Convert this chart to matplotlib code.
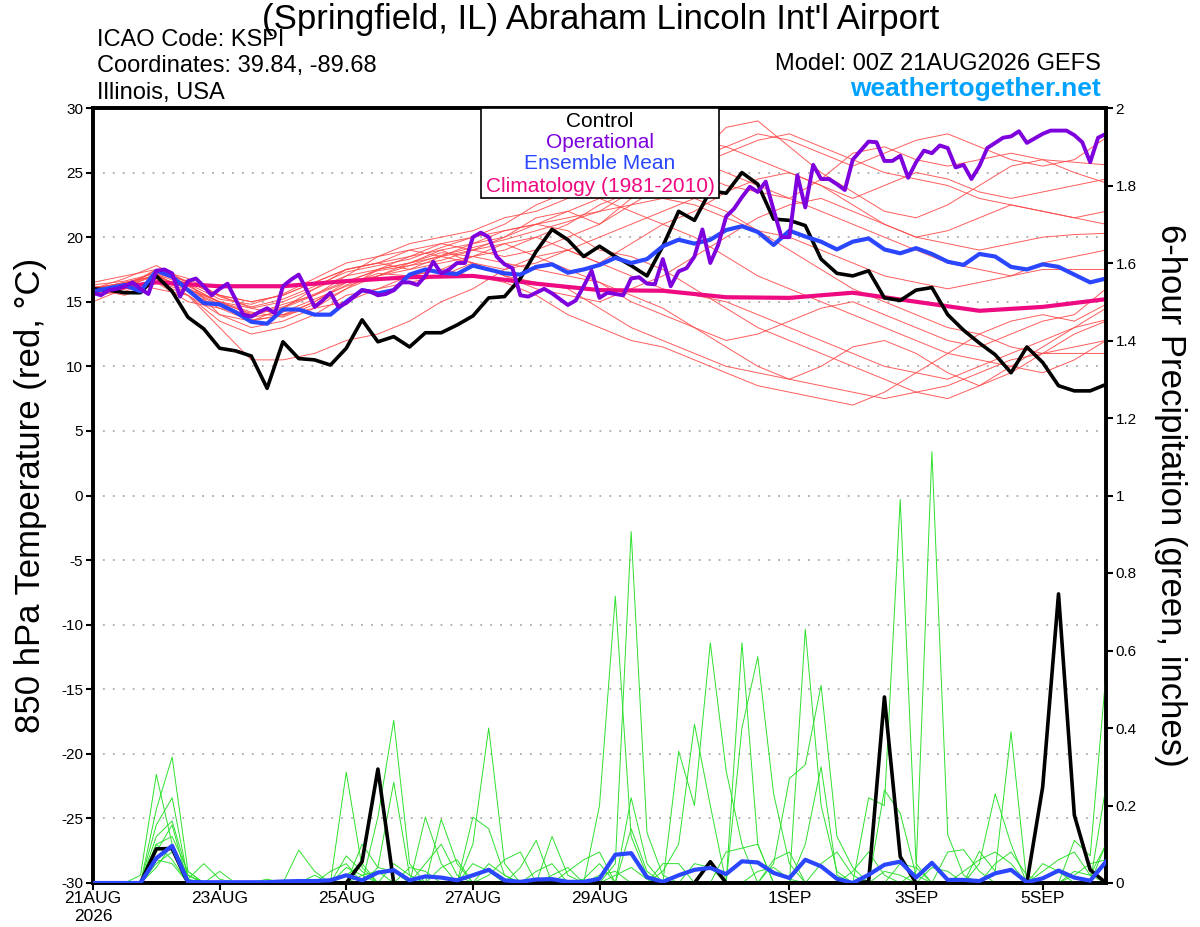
import numpy as np
import matplotlib
matplotlib.use('Agg')
import matplotlib.pyplot as plt
from matplotlib.patches import Rectangle

plt.rcParams['font.family'] = ['Liberation Sans', 'DejaVu Sans']
plt.rcParams['axes.unicode_minus'] = False

# forecast hours from 00Z 21AUG2026
hours_6h = np.arange(65) * 6
hours_3h = np.arange(129) * 3
hours_12h = np.arange(33) * 12
hours_24h = np.arange(17) * 24

tick_hours = [0, 48, 96, 144, 192, 264, 312, 360]
tick_labels = ['21AUG\n2026', '23AUG', '25AUG', '27AUG', '29AUG', '1SEP', '3SEP', '5SEP']

# 850 hPa temperature (C)
control_t = [16.0, 15.9, 15.7, 15.7, 17.0, 15.8, 13.8, 12.9, 11.4, 11.2, 10.8, 8.3, 11.9,
             10.6, 10.5, 10.1, 11.4, 13.6, 11.9, 12.3, 11.5, 12.6, 12.6, 13.2, 13.9, 15.3,
             15.4, 16.8, 18.9, 20.6, 19.8, 18.5, 19.3, 18.5, 17.8, 17.0, 19.3, 22.0, 21.3,
             23.6, 23.4, 25.0, 24.1, 21.4, 21.3, 20.9, 18.3, 17.2, 17.0, 17.4, 15.3, 15.1,
             15.9, 16.1, 14.0, 12.8, 11.8, 10.9, 9.5, 11.5, 10.3, 8.5, 8.1, 8.1, 8.6]

oper_t = [15.7, 15.5, 15.9, 16.0, 16.2, 16.5, 16.0, 15.6, 17.4, 17.5, 17.2, 15.4, 16.6,
          16.8, 16.2, 15.5, 16.0, 16.4, 15.2, 14.0, 13.85, 14.2, 14.5, 14.1, 16.2, 16.7,
          17.1, 15.9, 14.6, 15.1, 15.7, 14.6, 14.9, 15.4, 15.9, 15.8, 15.5, 15.6, 15.9,
          16.5, 16.5, 16.3, 17.0, 18.1, 17.2, 17.5, 18.0, 18.0, 20.0, 20.35, 20.0, 18.5,
          17.9, 17.6, 15.5, 15.4, 15.7, 16.0, 15.65, 15.2, 14.75, 15.1, 16.2, 17.4, 15.3,
          15.7, 15.6, 15.5, 16.8, 16.9, 16.4, 16.35, 18.3, 16.2, 17.35, 17.6, 18.5, 20.6,
          18.0, 19.4, 21.6, 22.2, 23.1, 23.9, 23.5, 24.3, 22.1, 20.0, 20.0, 24.8, 22.3,
          25.6, 24.5, 24.5, 24.1, 23.65, 26.0, 26.7, 27.4, 27.35, 25.9, 25.9, 26.3, 24.6,
          25.8, 26.7, 26.5, 27.1, 26.9, 25.4, 25.6, 24.5, 25.5, 26.9, 27.3, 27.7, 27.8,
          28.2, 27.3, 27.65, 28.0, 28.25, 28.25, 28.25, 27.9, 27.35, 25.8, 27.7, 28.0]

mean_t = [15.8, 16.05, 16.3, 15.8, 17.4, 16.95, 15.9, 14.9, 14.8, 14.2, 13.45, 13.3, 14.4,
          14.4, 14.0, 14.0, 15.0, 15.9, 15.65, 15.9, 17.1, 17.5, 17.25, 17.15, 17.8, 17.5,
          17.2, 17.1, 17.7, 17.9, 17.25, 17.5, 17.85, 18.4, 18.0, 18.3, 19.3, 19.8, 19.5,
          19.8, 20.55, 20.85, 20.4, 19.4, 20.5, 20.05, 19.65, 19.05, 19.65, 19.9, 19.05,
          18.75, 19.15, 18.7, 18.1, 17.85, 18.7, 18.5, 17.7, 17.5, 17.9, 17.7, 17.1, 16.5, 16.8]

clim_t = [15.8, 16.5, 16.2, 16.2, 16.6, 16.9, 17.0, 16.4, 15.9, 15.85, 15.35, 15.3, 15.7,
          15.0, 14.3, 14.6, 15.2]

# ensemble members, 850 hPa temperature every 12 h
r01 = [16.0, 16.5, 17.0, 16.0, 15.0, 14.5, 14.0, 15.0, 16.5, 17.0, 17.5, 18.0, 18.5, 19.0, 20.0, 21.0, 22.5,
       23.5, 24.0, 25.5, 26.5, 27.5, 28.0, 27.0, 26.0, 25.0, 24.5, 24.0, 23.0, 22.5, 22.0, 21.5, 21.0]
r02 = [15.5, 16.0, 17.5, 16.5, 14.0, 13.0, 13.5, 14.5, 16.0, 17.5, 18.0, 19.0, 19.5, 20.0, 21.5, 22.0, 21.0,
       22.5, 24.0, 26.0, 28.5, 29.0, 27.0, 25.0, 23.5, 22.0, 21.5, 22.5, 24.0, 25.5, 26.0, 25.0, 24.2]
r03 = [16.0, 15.5, 16.5, 15.5, 13.5, 12.5, 13.0, 14.0, 15.5, 16.0, 16.5, 17.0, 18.0, 17.0, 16.5, 16.0, 14.5,
       13.0, 12.0, 11.0, 10.0, 9.5, 9.0, 10.0, 11.5, 12.0, 11.0, 9.5, 8.5, 9.5, 11.0, 12.5, 13.5]
r04 = [15.0, 16.0, 16.5, 15.0, 14.5, 13.5, 14.5, 15.5, 17.0, 18.5, 19.0, 18.5, 19.0, 20.0, 21.0, 20.5, 19.0,
       18.5, 17.5, 16.0, 14.5, 13.0, 12.0, 11.0, 10.0, 9.0, 8.0, 7.5, 8.5, 10.0, 11.5, 13.0, 14.5]
r05 = [16.5, 17.0, 17.5, 16.5, 15.5, 15.0, 15.5, 16.5, 17.5, 18.0, 18.5, 19.5, 19.0, 18.5, 19.0, 20.0, 21.0,
       23.0, 25.0, 26.0, 25.0, 24.0, 23.0, 24.5, 26.5, 27.0, 26.0, 25.5, 26.0, 26.5, 26.0, 25.8, 25.6]
r06 = [16.0, 16.5, 16.0, 15.5, 14.0, 13.5, 14.0, 14.5, 15.0, 16.0, 17.0, 17.5, 17.0, 16.5, 15.5, 14.0, 13.0,
       12.0, 11.5, 10.5, 9.5, 8.5, 8.0, 7.5, 7.0, 8.0, 9.5, 11.0, 12.5, 13.5, 14.0, 13.5, 14.8]
r07 = [15.5, 16.5, 17.0, 16.0, 15.0, 14.0, 14.5, 16.0, 17.5, 18.0, 17.5, 18.5, 19.5, 20.5, 21.0, 22.0, 23.0,
       22.0, 21.0, 22.0, 23.5, 24.5, 25.0, 24.0, 22.5, 21.0, 20.0, 20.5, 21.5, 22.5, 22.0, 21.5, 22.0]
r08 = [15.8, 16.2, 17.5, 16.8, 15.5, 14.5, 15.0, 16.0, 17.0, 17.5, 18.0, 18.5, 18.0, 17.5, 18.0, 19.0, 20.0,
       21.0, 22.0, 23.0, 22.0, 20.5, 19.0, 17.5, 16.0, 15.0, 14.0, 13.0, 12.5, 11.5, 11.0, 11.5, 12.0]
r09 = [16.2, 16.0, 16.5, 15.8, 14.5, 14.0, 14.8, 15.5, 16.5, 17.5, 18.5, 19.0, 18.0, 17.0, 16.0, 15.5, 15.0,
       16.0, 17.0, 18.5, 20.0, 21.5, 22.5, 23.0, 22.0, 21.0, 20.0, 19.5, 19.0, 19.5, 20.0, 20.2, 20.3]
r10 = [15.5, 15.8, 16.8, 16.2, 15.0, 14.2, 13.8, 14.8, 16.0, 17.0, 17.8, 18.2, 19.0, 19.5, 18.5, 17.5, 16.5,
       15.5, 14.5, 13.0, 11.5, 10.0, 9.0, 8.5, 8.0, 7.5, 8.0, 8.5, 9.5, 10.5, 11.0, 11.0, 11.0]
r11 = [16.0, 16.8, 17.8, 16.5, 15.5, 15.0, 15.5, 16.5, 17.5, 18.0, 19.0, 19.5, 20.0, 21.0, 22.5, 23.5, 24.5,
       25.5, 26.0, 25.0, 24.0, 23.5, 23.0, 22.0, 21.0, 20.0, 19.0, 18.0, 17.5, 17.0, 17.5, 17.5, 17.5]
r12 = [15.8, 16.2, 17.0, 16.0, 14.8, 13.8, 14.2, 15.2, 16.2, 17.0, 18.0, 18.8, 18.5, 18.0, 17.5, 17.0, 16.5,
       15.0, 14.0, 13.0, 12.0, 12.5, 13.5, 14.5, 15.0, 14.0, 13.0, 12.0, 11.5, 12.5, 13.5, 14.0, 16.0]
r13 = [16.3, 16.6, 17.2, 16.4, 15.2, 14.8, 15.6, 16.8, 18.0, 18.5, 19.5, 20.0, 20.5, 21.5, 22.0, 23.0, 24.0,
       25.0, 26.5, 27.5, 27.0, 26.0, 25.0, 24.0, 23.0, 24.0, 25.0, 24.5, 23.5, 23.0, 23.5, 24.0, 24.5]
r14 = [15.7, 16.1, 16.7, 15.9, 14.7, 13.6, 13.9, 15.0, 16.3, 17.2, 17.0, 17.5, 18.5, 19.5, 20.0, 19.0, 18.0,
       17.0, 16.0, 15.5, 15.0, 14.0, 13.0, 12.0, 11.0, 10.0, 9.5, 9.0, 10.0, 11.0, 12.0, 13.0, 13.6]
r15 = [16.1, 16.4, 17.3, 16.6, 15.4, 14.6, 15.2, 16.2, 17.3, 17.8, 18.3, 19.2, 20.0, 20.5, 21.0, 21.5, 22.0,
       22.5, 23.0, 22.5, 21.5, 20.5, 20.0, 19.0, 18.0, 17.0, 16.5, 16.0, 16.5, 17.0, 18.0, 18.5, 19.0]
r16 = [15.9, 16.3, 17.1, 16.3, 14.9, 14.1, 14.6, 15.6, 16.6, 17.4, 17.8, 18.6, 19.2, 19.8, 20.5, 21.2, 22.0,
       23.5, 25.0, 26.0, 27.0, 28.0, 27.5, 26.5, 25.5, 26.5, 27.5, 28.0, 27.0, 26.0, 25.5, 26.0, 27.7]
r17 = [15.8, 16.0, 17.2, 15.5, 13.0, 10.5, 10.5, 11.0, 12.0, 12.5, 13.5, 15.0, 16.0, 17.5, 18.5, 19.0, 18.0,
       19.5, 21.0, 20.0, 18.5, 17.0, 16.0, 15.0, 14.0, 13.0, 12.0, 11.0, 10.5, 10.0, 9.5, 10.5, 12.0]
red_members = [r01, r02, r03, r04, r05, r06, r07, r08, r09, r10, r11, r12, r13, r14, r15, r16, r17]

# 6-hour precipitation (inches)
control_p = [0, 0, 0, 0, 0.088, 0.089, 0, 0, 0, 0, 0, 0, 0, 0, 0, 0, 0, 0.055, 0.294, 0, 0, 0,
             0, 0, 0, 0, 0, 0, 0, 0, 0, 0, 0, 0, 0, 0, 0, 0, 0, 0.055, 0, 0, 0, 0, 0, 0, 0,
             0, 0, 0.003, 0.48, 0.068, 0, 0, 0, 0, 0, 0, 0, 0, 0.248, 0.746, 0.175, 0.034, 0]

mean_p = [0, 0, 0, 0, 0.064, 0.096, 0.003, 0.002, 0.002, 0.002, 0.002, 0.002, 0.004, 0.005,
          0.005, 0.007, 0.02, 0.007, 0.027, 0.033, 0.007, 0.017, 0.014, 0.007, 0.02, 0.034,
          0.007, 0.003, 0.009, 0.01, 0.003, 0.003, 0.011, 0.073, 0.077, 0.015, 0.003, 0.02,
          0.034, 0.039, 0.023, 0.056, 0.053, 0.026, 0.013, 0.06, 0.043, 0.011, 0.0, 0.021,
          0.047, 0.055, 0.014, 0.052, 0.008, 0.008, 0.005, 0.025, 0.034, 0.002, 0.012, 0.032,
          0.014, 0.006, 0.055]

# ensemble members, precipitation: step index (6 h) -> amount, other steps dry
g01 = {3: .02, 4: .28, 5: .10, 6: .02, 16: .286, 17: .04, 24: .1, 25: .40, 26: .05, 32: .2, 33: .74,
       34: .12, 35: .02, 45: .655, 46: .2, 47: .03, 56: .05, 57: .23, 58: .1}
g02 = {4: .19, 5: .325, 6: .03, 18: .17, 19: .42, 20: .05, 29: .12, 30: .02, 33: .05, 34: .907, 35: .13,
       36: .02, 41: .62, 42: .1, 50: .24, 51: .18, 52: .02, 62: .11, 63: .07, 64: .54}
g03 = {4: .15, 5: .22, 6: .01, 7: .05, 8: .01, 13: .085, 14: .03, 21: .17, 22: .05, 27: .04, 28: .11,
       37: .34, 38: .2, 39: .62, 40: .29, 41: .1, 52: .03, 53: 1.113, 54: .125, 55: .02, 64: .1}
g04 = {4: .12, 5: .16, 6: .02, 17: .1, 18: .04, 19: .26, 20: .02, 22: .165, 23: .05, 34: .22, 35: .05,
       41: .40, 42: .584, 43: .23, 44: .05, 49: .22, 50: .2, 51: .99, 52: .05, 60: .05, 61: .03}
g05 = {4: .08, 5: .15, 8: .03, 16: .07, 17: .03, 24: .17, 25: .14, 26: .02, 31: .01, 32: .05, 34: .14,
       35: .03, 43: .05, 44: .27, 45: .305, 46: .51, 47: .12, 48: .04, 56: .082, 57: .03, 58: .39, 64: .25}
g06 = {4: .10, 5: .12, 6: .03, 16: .04, 17: .02, 21: .05, 22: .1, 23: .02, 28: .03, 29: .05, 36: .03,
       37: .1, 38: .41, 39: .2, 45: .1, 46: .3, 47: .02, 54: .08, 55: .086, 56: .03, 62: .03, 63: .02, 64: .1}
g07 = {4: .05, 5: .08, 6: .01, 15: .03, 16: .05, 18: .04, 19: .03, 25: .02, 26: .06, 27: .08, 32: .02,
       33: .03, 40: .08, 41: .09, 42: .1, 48: .03, 49: .08, 50: .02, 57: .05, 58: .08, 59: .02}
g08 = {4: .06, 5: .05, 14: .02, 16: .02, 17: .05, 20: .04, 21: .03, 24: .05, 25: .03, 30: .03, 31: .06,
       32: .08, 38: .05, 39: .04, 43: .06, 44: .08, 51: .05, 52: .04, 60: .03, 61: .06, 62: .08, 63: .02}
g09 = {4: .04, 5: .1, 6: .02, 11: .01, 19: .05, 20: .02, 22: .04, 23: .06, 29: .02, 30: .04, 36: .05,
       37: .05, 46: .05, 47: .08, 48: .02, 55: .03, 56: .06, 57: .08, 58: .05}
g10 = {4: .1, 5: .06, 17: .02, 18: .03, 25: .05, 26: .02, 33: .02, 34: .04, 35: .01, 42: .03, 43: .04,
       44: .01, 50: .03, 51: .02, 53: .04, 54: .03, 62: .02, 63: .05, 64: .06}
green_members = [g01, g02, g03, g04, g05, g06, g07, g08, g09, g10]

RED = '#ff4a4a'
GREEN = '#2ee02e'
PURPLE = '#7d00dd'
BLUE = '#2a46ff'
PINK = '#ee0a80'

fig = plt.figure(figsize=(12, 9.27), dpi=100)
ax = fig.add_axes([93 / 1200, 44 / 927, 1013 / 1200, 775 / 927])
ax2 = ax.twinx()

# temperature panel (left axis)
for m in red_members:
    ax.plot(hours_12h[:len(m)], m, color=RED, lw=0.7, alpha=0.9, zorder=2)
ax.plot(hours_24h, clim_t, color=PINK, lw=3, zorder=3)
ax.plot(hours_6h, control_t, color='black', lw=2.6, zorder=4)
ax.plot(hours_6h, mean_t, color=BLUE, lw=3, zorder=5)
ax.plot(hours_3h, oper_t, color=PURPLE, lw=2.8, zorder=6)

# precipitation panel (right axis)
for g in green_members:
    vals = np.zeros(len(hours_6h))
    for k, v in g.items():
        vals[k] = v
    ax2.plot(hours_6h, vals, color=GREEN, lw=0.7, zorder=2)
ax2.plot(hours_6h, control_p, color='black', lw=2.6, zorder=3)
ax2.plot(hours_6h, mean_p, color=BLUE, lw=3, zorder=4)

ax.set_xlim(0, 384)
ax.set_ylim(-30, 30)
ax2.set_ylim(0, 2)
ax.set_yticks(np.arange(-30, 31, 5))
ax.set_yticklabels([str(v) for v in range(-30, 31, 5)])
ax2.set_yticks(np.arange(0, 2.01, 0.2))
ax2.set_yticklabels(['0', '0.2', '0.4', '0.6', '0.8', '1', '1.2', '1.4', '1.6', '1.8', '2'])
ax.set_xticks(tick_hours)
ax.set_xticklabels(tick_labels)

ax.set_axisbelow(True)
ax.yaxis.grid(True, linestyle=(0, (1, 4.5)), color='#aaaaaa', lw=1.3)

for a in (ax, ax2):
    for s in a.spines.values():
        s.set_linewidth(2.6)
    a.tick_params(direction='out', length=5, width=1.5, labelsize=11, pad=2)
ax.tick_params(axis='x', labelsize=12.5, pad=1)

# legend box
ax2.add_patch(Rectangle((0.383, 0.884), 0.235, 0.116, transform=ax2.transAxes,
                        facecolor='white', edgecolor='black', lw=1.2, zorder=10, clip_on=False))
legend_items = [('Control', 'black', 0.983), ('Operational', PURPLE, 0.956),
                ('Ensemble Mean', BLUE, 0.929), ('Climatology (1981-2010)', PINK, 0.899)]
for label, col, yy in legend_items:
    ax2.text(0.5005, yy, label, color=col, fontsize=15, ha='center', va='center',
             transform=ax2.transAxes, zorder=11)

# header text
fig.text(601 / 1200, 1 - 19 / 927, "(Springfield, IL) Abraham Lincoln Int'l Airport",
         fontsize=25, ha='center', va='center')
fig.text(97 / 1200, 1 - 40 / 927, 'ICAO Code: KSPI', fontsize=17, va='center')
fig.text(97 / 1200, 1 - 66 / 927, 'Coordinates: 39.84, -89.68', fontsize=17, va='center')
fig.text(97 / 1200, 1 - 93 / 927, 'Illinois, USA', fontsize=17, va='center')
fig.text(1101 / 1200, 1 - 64 / 927, 'Model: 00Z 21AUG2026 GEFS', fontsize=17,
         ha='right', va='center')
fig.text(1101 / 1200, 1 - 89 / 927, 'weathertogether.net', fontsize=19, fontweight='bold',
         color='#00a2ff', ha='right', va='center')

fig.text(31 / 1200, 1 - 495 / 927, '850 hPa Temperature (red, \u00b0C)', fontsize=25,
         rotation=90, ha='center', va='center')
fig.text(1170 / 1200, 1 - 495 / 927, '6-hour Precipitation (green, inches)', fontsize=25,
         rotation=270, ha='center', va='center')

fig.savefig('out.png', dpi=100)
